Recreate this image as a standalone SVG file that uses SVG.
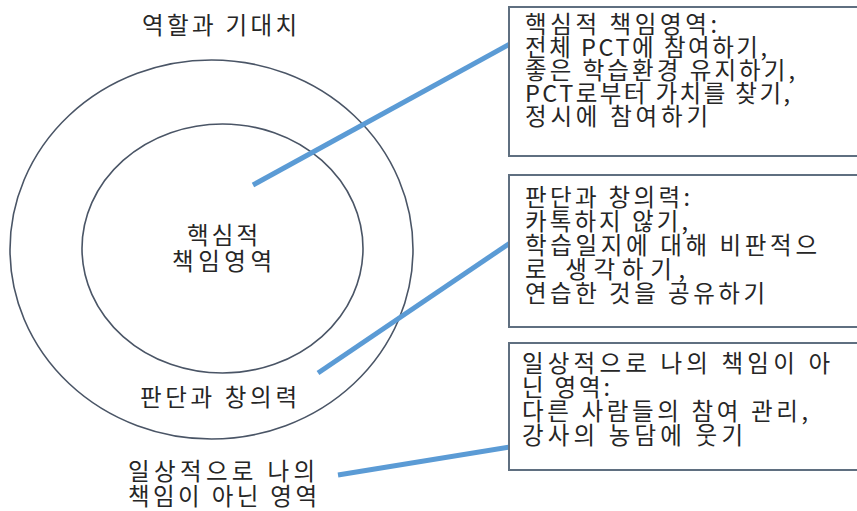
<svg xmlns="http://www.w3.org/2000/svg" width="857" height="511" viewBox="0 0 857 511">
<style>
.t{font-family:"Noto Sans CJK KR","Noto Sans",sans-serif;font-size:23.5px;fill:#262626}
.ring{fill:none;stroke:#4a5566;stroke-width:1.6}
.box{fill:#ffffff;stroke:#5f6f80;stroke-width:2}
.conn{stroke:#5b9bd5;stroke-width:5;fill:none}
</style>
<rect width="857" height="511" fill="#ffffff"/>
<g id="outer-circle">
<ellipse class="ring" cx="211.5" cy="249.5" rx="201.5" ry="189.5"/>
</g>
<g id="inner-circle">
<ellipse class="ring" cx="222.5" cy="248.5" rx="140.5" ry="124.5"/>
</g>
<g id="label-roles">
<text class="t" x="142" y="34" textLength="155">역할과 기대치</text>
</g>
<g id="label-core">
<text class="t" x="187" y="244" textLength="71">핵심적</text>
<text class="t" x="172" y="270" textLength="100">책임영역</text>
</g>
<g id="label-judgement">
<text class="t" x="140" y="406" textLength="157">판단과 창의력</text>
</g>
<g id="label-not-mine">
<text class="t" x="128" y="480" textLength="187">일상적으로 나의</text>
<text class="t" x="128" y="505" textLength="189">책임이 아닌 영역</text>
</g>
<g id="connectors">
<line class="conn" x1="253" y1="185" x2="510" y2="44"/>
<line class="conn" x1="318" y1="373" x2="510" y2="243"/>
<line class="conn" x1="338" y1="475" x2="510" y2="447"/>
</g>
<g id="box-core">
<rect class="box" x="509" y="7" width="360" height="149"/>
<text class="t" x="525" y="33" textLength="192">핵심적 책임영역:</text>
<text class="t" x="525" y="56" textLength="242">전체 PCT에 참여하기,</text>
<text class="t" x="525" y="79" textLength="270">좋은 학습환경 유지하기,</text>
<text class="t" x="525" y="102" textLength="265">PCT로부터 가치를 찾기,</text>
<text class="t" x="525" y="125" textLength="183">정시에 참여하기</text>
</g>
<g id="box-judgement">
<rect class="box" x="509" y="175" width="360" height="152"/>
<text class="t" x="525" y="206" textLength="165">판단과 창의력:</text>
<text class="t" x="525" y="230" textLength="163">카톡하지 않기,</text>
<text class="t" x="525" y="254" textLength="292">학습일지에 대해 비판적으</text>
<text class="t" x="525" y="278" textLength="160">로 생각하기,</text>
<text class="t" x="525" y="302" textLength="240">연습한 것을 공유하기</text>
</g>
<g id="box-not-mine">
<rect class="box" x="509" y="343" width="360" height="127"/>
<text class="t" x="522" y="372" textLength="308">일상적으로 나의 책임이 아</text>
<text class="t" x="522" y="396" textLength="88">닌 영역:</text>
<text class="t" x="522" y="420" textLength="286">다른 사람들의 참여 관리,</text>
<text class="t" x="522" y="444" textLength="221">강사의 농담에 웃기</text>
</g>
</svg>
